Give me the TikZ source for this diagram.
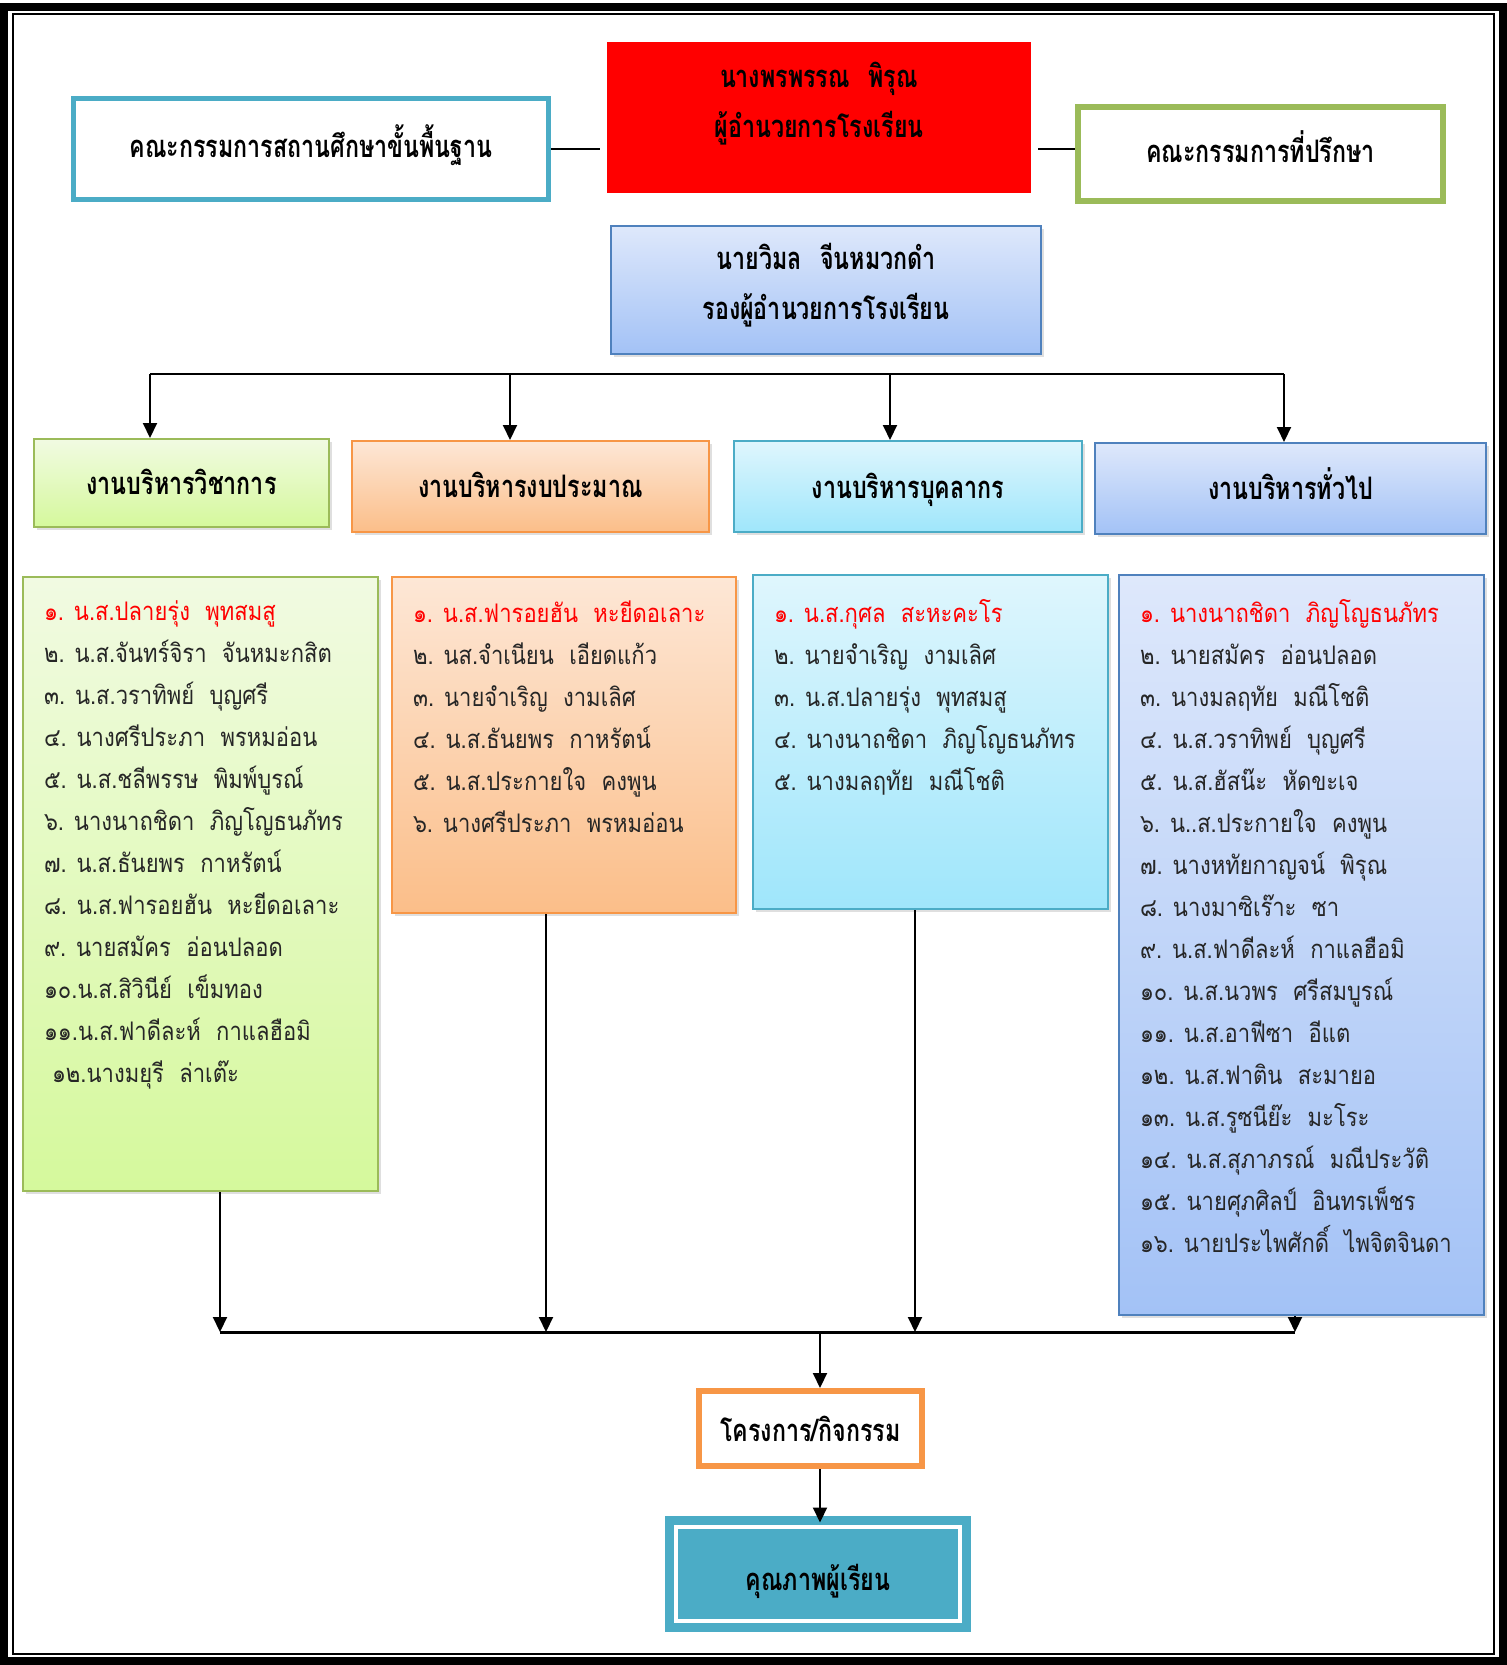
\documentclass[tikz,border=0pt]{standalone}
\usepackage{fontspec}
\usepackage{xcolor}
\usepackage{tikz}
\usetikzlibrary{positioning, arrows.meta, calc, shadows}
\newfontfamily\thailist[Script=Thai, FakeStretch=0.86]{Loma}
\newfontfamily\thaihead[Script=Thai, FakeStretch=0.75]{Loma}
\newcommand{\nmgap}{\hspace{0.6em}}
\definecolor{cteal}{HTML}{4BACC6}
\definecolor{cgreen}{HTML}{9BBB59}
\definecolor{cblue}{HTML}{4F81BD}
\definecolor{corange}{HTML}{F79646}
\definecolor{limetop}{HTML}{F1FAE2}
\definecolor{limebot}{HTML}{D5F99C}
\definecolor{peachtop}{HTML}{FDE7D6}
\definecolor{peachbot}{HTML}{FBBE89}
\definecolor{skytop}{HTML}{DFF6FD}
\definecolor{skybot}{HTML}{9FE6FB}
\definecolor{bluetop}{HTML}{DEE8FB}
\definecolor{bluebot}{HTML}{A3C2F6}
\tikzset{boxshadow/.style={
    drop shadow={opacity=0.25, shadow xshift=1.5pt, shadow yshift=-1.5pt}
}}
\tikzset{headbox/.style={
    rectangle,
    align=center,
    text=black,
    font=\thaihead\bfseries\fontsize{15.5}{25}\selectfont
}}
\tikzset{oneline/.style={
    text height=13pt,
    text depth=5pt
}}
\tikzset{dept/.style={
    headbox,
    draw,
    line width=1pt,
    boxshadow
}}
\tikzset{listbox/.style={
    rectangle,
    draw,
    line width=1pt,
    boxshadow
}}
\tikzset{listtext/.style={
    anchor=north west,
    align=left,
    inner sep=0pt,
    text=black!85,
    font=\thailist\fontsize{12.8}{21}\selectfont
}}

\begin{document}
\begin{tikzpicture}[
    x=0.5pt, y=-0.5pt,
    >={Triangle[width=7pt,length=7.5pt]}, line width=1pt,
]
    \useasboundingbox (0,0) rectangle (1507,1665);
    % page frame
    \draw [line width=4pt] (4,7) rectangle (1503,1661);
    \draw [line width=0.8pt] (13,14) rectangle (1494,1654);

    % top row
    \node (basecomm) [headbox, oneline, draw=cteal, line width=2.5pt, minimum width=237.5pt, minimum height=50.5pt]
        at (311,149) {คณะกรรมการสถานศึกษาขั้นพื้นฐาน};
    \node (director) [headbox, fill=red, draw=white, line width=3.5pt, boxshadow,
        minimum width=215.5pt, minimum height=79pt, text depth=18pt]
        at (819,117.5) {นางพรพรรณ\nmgap พิรุณ\\ผู้อำนวยการโรงเรียน};
    \node (advisory) [headbox, oneline, draw=cgreen, line width=3pt, minimum width=182.5pt, minimum height=47pt]
        at (1260.5,154) {คณะกรรมการที่ปรึกษา};
    \node (deputy) [dept, draw=cblue, top color=bluetop, bottom color=bluebot,
        minimum width=215pt, minimum height=64pt, text depth=9pt]
        at (826,290) {นายวิมล\nmgap จีนหมวกดำ\\รองผู้อำนวยการโรงเรียน};
    \draw (basecomm.east) -- (basecomm.east -| director.west);
    \draw (director.east |- basecomm.east) -- (advisory.west |- basecomm.east);

    % four departments
    \node (acad)    [dept, oneline, text height=14pt, text depth=3pt, draw=cgreen, top color=limetop, bottom color=limebot,
        minimum width=147.5pt, minimum height=44pt] at (181.5,483) {งานบริหารวิชาการ};
    \node (budget)  [dept, oneline, text height=14pt, text depth=3pt, draw=corange, top color=peachtop, bottom color=peachbot,
        minimum width=178.5pt, minimum height=45.5pt] at (530.5,486.5) {งานบริหารงบประมาณ};
    \node (staff)   [dept, oneline, text height=14.5pt, text depth=2.5pt, draw=cteal, top color=skytop, bottom color=skybot,
        minimum width=174pt, minimum height=45.5pt] at (908,486.5) {งานบริหารบุคลากร};
    \node (general) [dept, oneline, text height=14pt, text depth=3pt, draw=cblue, top color=bluetop, bottom color=bluebot,
        minimum width=195.5pt, minimum height=45.5pt] at (1290.5,488.5) {งานบริหารทั่วไป};

    \coordinate (ltop) at (150,374);
    \coordinate (tb)   at (510,374);
    \coordinate (tc)   at (890,374);
    \coordinate (rtop) at (1284,374);
    \draw (ltop) -- (rtop);
    \foreach \c/\n in {ltop/acad, tb/budget, tc/staff, rtop/general}
        \draw [->] (\c) -- (\c |- \n.north);

    % member lists
    \node (acadlist)    [listbox, draw=cgreen, top color=limetop, bottom color=limebot,
        minimum width=177.5pt, minimum height=307pt] at (200.5,884) {};
    \node (budgetlist)  [listbox, draw=corange, top color=peachtop, bottom color=peachbot,
        minimum width=172pt, minimum height=168pt] at (564,745) {};
    \node (stafflist)   [listbox, draw=cteal, top color=skytop, bottom color=skybot,
        minimum width=177.5pt, minimum height=167pt] at (930.5,742) {};
    \node (generallist) [listbox, draw=cblue, top color=bluetop, bottom color=bluebot,
        minimum width=182.5pt, minimum height=370pt] at (1301.5,945) {};

    \node (acadtxt) [listtext] at ($(acadlist.north west)+(21,24)$) {%
        \textcolor{red}{๑. น.ส.ปลายรุ่ง\nmgap พุทสมสู}\\
        ๒. น.ส.จันทร์จิรา\nmgap จันหมะกสิต\\
        ๓. น.ส.วราทิพย์\nmgap บุญศรี\\
        ๔. นางศรีประภา\nmgap พรหมอ่อน\\
        ๕. น.ส.ชลีพรรษ\nmgap พิมพ์บูรณ์\\
        ๖. นางนาถชิดา\nmgap ภิญโญธนภัทร\\
        ๗. น.ส.ธันยพร\nmgap กาหรัตน์\\
        ๘. น.ส.ฟารอยฮัน\nmgap หะยีดอเลาะ\\
        ๙. นายสมัคร\nmgap อ่อนปลอด\\
        ๑๐.น.ส.สิวินีย์\nmgap เข็มทอง\\
        ๑๑.น.ส.ฟาดีละห์\nmgap กาแลฮือมิ\\
        \hspace*{4pt}๑๒.นางมยุรี\nmgap ล่าเต๊ะ};
    \node (budgettxt) [listtext] at ($(budgetlist.north west)+(21,24)$) {%
        \textcolor{red}{๑. น.ส.ฟารอยฮัน\nmgap หะยีดอเลาะ}\\
        ๒. นส.จำเนียน\nmgap เอียดแก้ว\\
        ๓. นายจำเริญ\nmgap งามเลิศ\\
        ๔. น.ส.ธันยพร\nmgap กาหรัตน์\\
        ๕. น.ส.ประกายใจ\nmgap คงพูน\\
        ๖. นางศรีประภา\nmgap พรหมอ่อน};
    \node (stafftxt) [listtext] at ($(stafflist.north west)+(21,24)$) {%
        \textcolor{red}{๑. น.ส.กุศล\nmgap สะหะคะโร}\\
        ๒. นายจำเริญ\nmgap งามเลิศ\\
        ๓. น.ส.ปลายรุ่ง\nmgap พุทสมสู\\
        ๔. นางนาถชิดา\nmgap ภิญโญธนภัทร\\
        ๕. นางมลฤทัย\nmgap มณีโชติ};
    \node (generaltxt) [listtext] at ($(generallist.north west)+(21,24)$) {%
        \textcolor{red}{๑. นางนาถชิดา\nmgap ภิญโญธนภัทร}\\
        ๒. นายสมัคร\nmgap อ่อนปลอด\\
        ๓. นางมลฤทัย\nmgap มณีโชติ\\
        ๔. น.ส.วราทิพย์\nmgap บุญศรี\\
        ๕. น.ส.ฮัสน๊ะ\nmgap หัดขะเจ\\
        ๖. น..ส.ประกายใจ\nmgap คงพูน\\
        ๗. นางหทัยกาญจน์\nmgap พิรุณ\\
        ๘. นางมาซิเร๊าะ\nmgap ซา\\
        ๙. น.ส.ฟาดีละห์\nmgap กาแลฮือมิ\\
        ๑๐. น.ส.นวพร\nmgap ศรีสมบูรณ์\\
        ๑๑. น.ส.อาฟีซา\nmgap อีแต\\
        ๑๒. น.ส.ฟาติน\nmgap สะมายอ\\
        ๑๓. น.ส.รูซนีย๊ะ\nmgap มะโระ\\
        ๑๔. น.ส.สุภาภรณ์\nmgap มณีประวัติ\\
        ๑๕. นายศุภศิลป์\nmgap อินทรเพ็ชร\\
        ๑๖. นายประไพศักดิ์\nmgap ไพจิตจินดา};

    % bottom
    \node (project) [headbox, text height=15pt, text depth=2pt, draw=corange, line width=3pt, fill=white,
        minimum width=111.5pt, minimum height=37.5pt] at (810.5,1428.5) {โครงการ/กิจกรรม};
    \node (quality) [headbox, text height=17pt, text depth=0.5pt, fill=cteal, draw=cteal, double=white, double distance=2pt,
        line width=4.5pt, minimum width=142pt, minimum height=47pt] at (818,1574) {คุณภาพผู้เรียน};

    \coordinate (lbot) at (220,1332);
    \coordinate (bb)   at (546,1332);
    \coordinate (bc)   at (915,1332);
    \coordinate (rbot) at (1295,1332);
    \coordinate (mid)  at (820,1332);
    \draw [line width=1.5pt] (lbot) -- (rbot);
    \foreach \n/\c in {acadlist/lbot, budgetlist/bb, stafflist/bc, generallist/rbot}
        \draw [->] (\c |- \n.south) -- (\c);
    \draw [->] (mid) -- (mid |- project.north);
    \draw [->] (project.south -| mid) -- (mid |- quality.north);
\end{tikzpicture}
\end{document}
